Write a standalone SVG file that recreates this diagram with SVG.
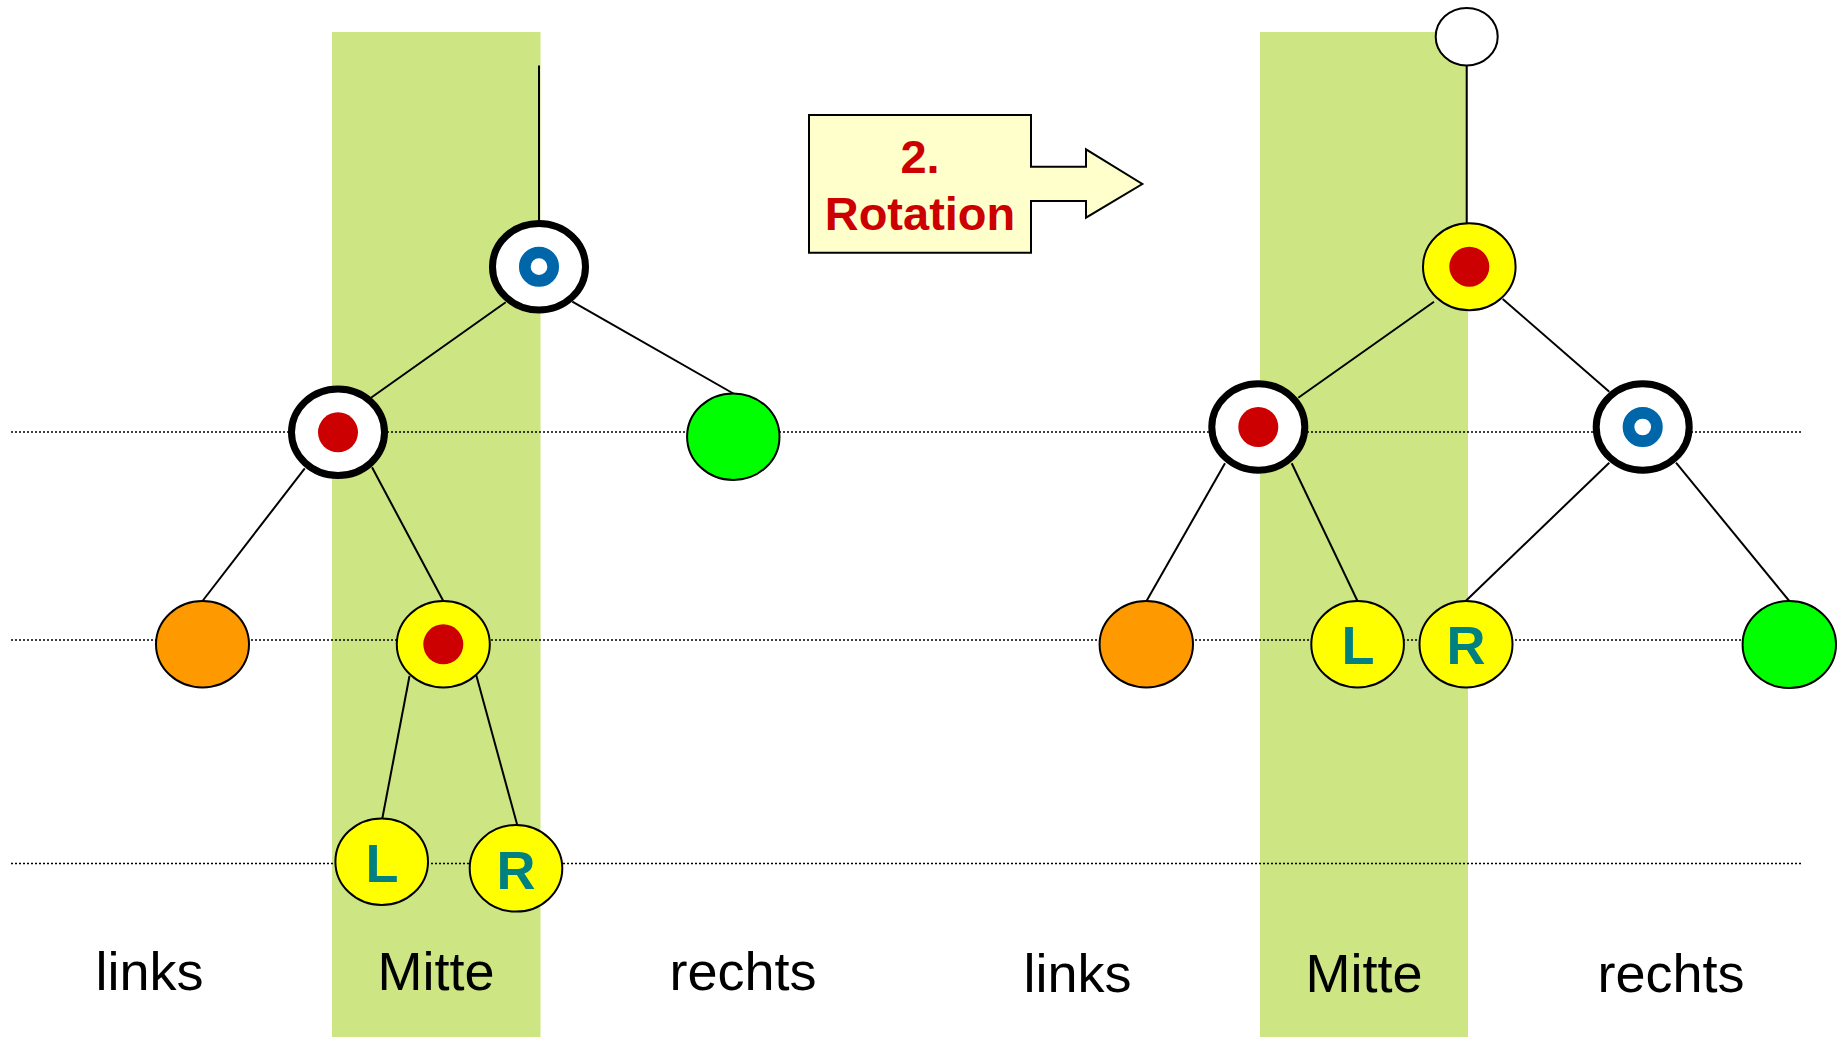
<svg xmlns="http://www.w3.org/2000/svg" width="1843" height="1037" viewBox="0 0 1843 1037">
<style>
.band{fill:#CDE582}
.guide{stroke:#000;stroke-width:1.6;stroke-dasharray:2 2;fill:none}
.edge{stroke:#000;stroke-width:2;fill:none}
.thick{fill:#fff;stroke:#000;stroke-width:7}
.thin{stroke:#000;stroke-width:2}
.yellow{fill:#FFFF00}
.orange{fill:#FF9900}
.green{fill:#00FF00}
.dot{fill:#CC0000}
.ring{fill:none;stroke:#0066AA;stroke-width:11.7}
.lbl{font-family:"Liberation Sans",Arial,sans-serif;font-size:54px;fill:#000;text-anchor:middle}
.key{font-family:"Liberation Sans",Arial,sans-serif;font-size:54px;font-weight:bold;fill:#008080;text-anchor:middle}
.rot{font-family:"Liberation Sans",Arial,sans-serif;font-size:47px;font-weight:bold;fill:#CC0000;text-anchor:middle}
</style>
<rect width="1843" height="1037" fill="#fff"/>
<g id="bands">
<rect class="band" x="332" y="32" width="208.5" height="1005"/>
<rect class="band" x="1260" y="32" width="208" height="1005"/>
</g>
<g id="guides">
<line class="guide" x1="11" y1="432" x2="1801" y2="432"/>
<line class="guide" x1="11" y1="640" x2="1801" y2="640"/>
<line class="guide" x1="11" y1="863.5" x2="1801" y2="863.5"/>
</g>
<g id="connectors">
<line class="edge" x1="539" y1="65.5" x2="539" y2="222"/>
<line class="edge" x1="505.7" y1="302.3" x2="371" y2="397.7"/>
<line class="edge" x1="572.3" y1="301.7" x2="733.3" y2="393.5"/>
<line class="edge" x1="304.8" y1="468.3" x2="202.5" y2="601"/>
<line class="edge" x1="372" y1="467.3" x2="443.3" y2="601"/>
<line class="edge" x1="409.5" y1="676" x2="382.3" y2="818.5"/>
<line class="edge" x1="476.2" y1="675" x2="517.3" y2="825.3"/>
<line class="edge" x1="1466.7" y1="65" x2="1466.7" y2="223"/>
<line class="edge" x1="1434" y1="301.7" x2="1298.3" y2="397.7"/>
<line class="edge" x1="1502.7" y1="299" x2="1609.3" y2="391.7"/>
<line class="edge" x1="1225" y1="463.3" x2="1146.5" y2="601"/>
<line class="edge" x1="1291.7" y1="463.3" x2="1357.5" y2="601"/>
<line class="edge" x1="1609.3" y1="462.7" x2="1465.7" y2="601"/>
<line class="edge" x1="1676" y1="462.7" x2="1789.3" y2="601"/>
</g>
<g id="left-root">
<ellipse class="thick" cx="539" cy="266.7" rx="46.5" ry="43.2"/>
<circle class="ring" cx="539" cy="266.7" r="14.2"/>
</g>
<g id="left-mid">
<ellipse class="thick" cx="338" cy="432.3" rx="46.5" ry="43.2"/>
<circle class="dot" cx="338" cy="432.3" r="20"/>
</g>
<g id="left-green">
<ellipse class="green thin" cx="733.3" cy="436.7" rx="46.2" ry="43.3"/>
</g>
<g id="left-orange">
<ellipse class="orange thin" cx="202.5" cy="644.3" rx="46.5" ry="43.2"/>
</g>
<g id="left-yellow">
<ellipse class="yellow thin" cx="443.3" cy="644.3" rx="46.5" ry="43.2"/>
<circle class="dot" cx="443.3" cy="644.3" r="20"/>
</g>
<g id="left-L">
<ellipse class="yellow thin" cx="381.7" cy="861.7" rx="46.3" ry="43.3"/>
<text class="key" x="382" y="882.3">L</text>
</g>
<g id="left-R">
<ellipse class="yellow thin" cx="516" cy="868.3" rx="46.3" ry="43.3"/>
<text class="key" x="516" y="889">R</text>
</g>
<g id="right-top">
<ellipse fill="#fff" class="thin" cx="1466.7" cy="36.7" rx="31" ry="28.8"/>
</g>
<g id="right-root">
<ellipse class="yellow thin" cx="1469.3" cy="266.7" rx="46.3" ry="43.5"/>
<circle class="dot" cx="1469.3" cy="266.7" r="20"/>
</g>
<g id="right-mid-left">
<ellipse class="thick" cx="1258.3" cy="427" rx="46.5" ry="43.2"/>
<circle class="dot" cx="1258.3" cy="427" r="20"/>
</g>
<g id="right-mid-right">
<ellipse class="thick" cx="1642.7" cy="427" rx="46.5" ry="43.2"/>
<circle class="ring" cx="1642.7" cy="427" r="14.2"/>
</g>
<g id="right-orange">
<ellipse class="orange thin" cx="1146.3" cy="644.3" rx="46.7" ry="43.2"/>
</g>
<g id="right-L">
<ellipse class="yellow thin" cx="1357.6" cy="644.3" rx="46.3" ry="43.2"/>
<text class="key" x="1358" y="664">L</text>
</g>
<g id="right-R">
<ellipse class="yellow thin" cx="1466" cy="644.3" rx="46.5" ry="43.2"/>
<text class="key" x="1466" y="664">R</text>
</g>
<g id="right-green">
<ellipse class="green thin" cx="1789.3" cy="644.5" rx="46.7" ry="43.5"/>
</g>
<g id="rotation-arrow">
<polygon points="809,115 1031,115 1031,166.7 1086,166.7 1086,149.3 1142.3,184 1086,217.7 1086,201 1031,201 1031,252.7 809,252.7" fill="#FFFFCC" stroke="#000" stroke-width="2"/>
<text class="rot" x="920" y="172.7">2.</text>
<text class="rot" x="920" y="230">Rotation</text>
</g>
<g id="labels">
<text class="lbl" x="149.5" y="990">links</text>
<text class="lbl" x="436" y="990">Mitte</text>
<text class="lbl" x="743" y="990">rechts</text>
<text class="lbl" x="1077.5" y="992">links</text>
<text class="lbl" x="1364" y="992">Mitte</text>
<text class="lbl" x="1671" y="992">rechts</text>
</g>
</svg>
